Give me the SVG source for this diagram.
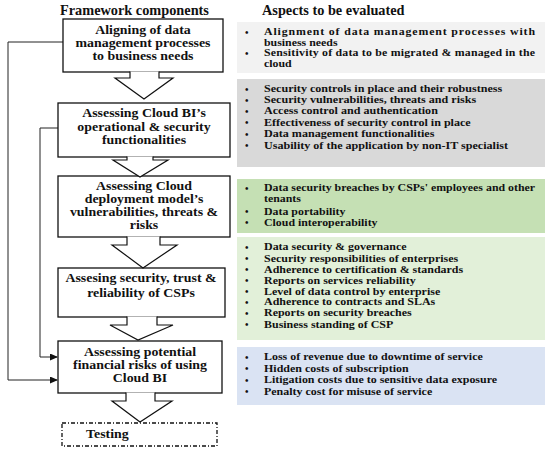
<svg xmlns="http://www.w3.org/2000/svg" width="550" height="452" viewBox="0 0 550 452">
<style>
  .hd{font-family:"Liberation Serif",serif;font-weight:bold;font-size:14.3px;fill:#111}
  .bx{fill:#fff;stroke:#111;stroke-width:1.3}
  .bt{font-family:"Liberation Serif",serif;font-weight:bold;font-size:12.4px;fill:#111;text-anchor:middle}
  .ar{fill:#fff;stroke:#111;stroke-width:1.2}
  .ln{fill:none;stroke:#222;stroke-width:1}
  .it{font-family:"Liberation Serif",serif;font-weight:bold;font-size:10.6px;fill:#111}
  .bu{font-family:"Liberation Serif",serif;font-weight:bold;font-size:10px;fill:#111}
</style>
<defs>
  <marker id="ah" markerWidth="8" markerHeight="7" refX="7" refY="3.5" orient="auto" markerUnits="userSpaceOnUse">
    <path d="M0,0 L8,3.5 L0,7 Z" fill="#111"/>
  </marker>
</defs>
<rect width="550" height="452" fill="#fff"/>
<text class="hd" x="60" y="15">Framework components</text>
<text class="hd" x="262" y="15">Aspects to be evaluated</text>

<g id="connectors">
  <path class="ln" d="M63,42 H8 V380 H57" marker-end="url(#ah)"/>
  <path class="ln" d="M58,128 H40 V357 H57" marker-end="url(#ah)"/>
</g>

<g id="node1">
  <rect class="bx" x="63" y="19" width="160" height="53"/>
  <g transform="matrix(1.12,0,0,1,143,0)">
    <text class="bt" x="0" y="34.5">Aligning of data</text>
    <text class="bt" x="0" y="47.5">management processes</text>
    <text class="bt" x="0" y="60.5">to business needs</text>
  </g>
</g>
<g id="node2">
  <rect class="bx" x="58" y="103" width="172" height="54"/>
  <g transform="matrix(1.12,0,0,1,144,0)">
    <text class="bt" x="0" y="117">Assessing Cloud BI’s</text>
    <text class="bt" x="0" y="131">operational &amp; security</text>
    <text class="bt" x="0" y="144.5">functionalities</text>
  </g>
</g>
<g id="node3">
  <rect class="bx" x="58" y="176" width="172" height="61"/>
  <g transform="matrix(1.12,0,0,1,144,0)">
    <text class="bt" x="0" y="190.5">Assessing Cloud</text>
    <text class="bt" x="0" y="203.5">deployment model’s</text>
    <text class="bt" x="0" y="216.5">vulnerabilities, threats &amp;</text>
    <text class="bt" x="0" y="229.5">risks</text>
  </g>
</g>
<g id="node4">
  <rect class="bx" x="58" y="268" width="167" height="49"/>
  <g transform="matrix(1.12,0,0,1,141,0)">
    <text class="bt" x="0" y="282.5">Assesing security, trust &amp;</text>
    <text class="bt" x="0" y="297">reliability of CSPs</text>
  </g>
</g>
<g id="node5">
  <rect class="bx" x="58" y="341" width="164" height="52"/>
  <g transform="matrix(1.12,0,0,1,140,0)">
    <text class="bt" x="0" y="356">Assessing potential</text>
    <text class="bt" x="0" y="369">financial risks of using</text>
    <text class="bt" x="0" y="382">Cloud BI</text>
  </g>
</g>
<g id="node6">
  <rect x="62" y="423" width="155" height="23" fill="#fff" stroke="#111" stroke-width="1.3" stroke-dasharray="4,2,1,2"/>
  <g transform="matrix(1.12,0,0,1,86,0)">
    <text class="bt" x="0" y="438.5" style="text-anchor:start">Testing</text>
  </g>
</g>

<g id="flow-arrows">
  <path class="ar" d="M130,71.5 V78 H115 L144,99 L173,78 H159 V71.5"/>
  <path class="ar" d="M127,156.5 V160 H113 L140,177 L168,160 H153 V156.5"/>
  <path class="ar" d="M127,236.5 V245 H112 L143,268 L177,245 H160 V236.5"/>
  <path class="ar" d="M127,316.5 V325 H110 L138,340 L173,325 H157 V316.5"/>
  <path class="ar" d="M126,392.5 V401 H112 L140,422 L172,401 H155 V392.5"/>
</g>

<g id="panel1">
  <rect x="237" y="22" width="308" height="51" fill="#f2f2f2"/>
  <text class="bu" x="245" y="35.5">•</text>
  <text class="bu" x="245" y="56.5">•</text>
  <g transform="matrix(1.12,0,0,1,264,0)">
    <text class="it" x="0" y="35.5" textLength="242" lengthAdjust="spacing">Alignment of data management processes with</text>
    <text class="it" x="0" y="46">business needs</text>
    <text class="it" x="0" y="56.5" textLength="242" lengthAdjust="spacing">Sensitivity of data to be migrated &amp; managed in the</text>
    <text class="it" x="0" y="67">cloud</text>
  </g>
</g>
<g id="panel2">
  <rect x="237" y="79" width="308" height="88" fill="#d9d9d9"/>
  <text class="bu" x="245" y="92.5">•</text>
  <text class="bu" x="245" y="103.5">•</text>
  <text class="bu" x="245" y="114.5">•</text>
  <text class="bu" x="245" y="126">•</text>
  <text class="bu" x="245" y="137.5">•</text>
  <text class="bu" x="245" y="149">•</text>
  <g transform="matrix(1.14,0,0,1,264,0)">
    <text class="it" x="0" y="92.5">Security controls in place and their robustness</text>
    <text class="it" x="0" y="103.5">Security vulnerabilities, threats and risks</text>
    <text class="it" x="0" y="114.5">Access control and authentication</text>
    <text class="it" x="0" y="126">Effectiveness of security control in place</text>
    <text class="it" x="0" y="137.5">Data management functionalities</text>
    <text class="it" x="0" y="149">Usability of the application by non-IT specialist</text>
  </g>
</g>
<g id="panel3">
  <rect x="237" y="179" width="308" height="54" fill="#c5e0b4"/>
  <text class="bu" x="245" y="191.5">•</text>
  <text class="bu" x="245" y="215">•</text>
  <text class="bu" x="245" y="226">•</text>
  <g transform="matrix(1.12,0,0,1,264,0)">
    <text class="it" x="0" y="191.5">Data security breaches by CSPs' employees and other</text>
    <text class="it" x="0" y="202.5">tenants</text>
    <text class="it" x="0" y="215">Data portability</text>
    <text class="it" x="0" y="226">Cloud interoperability</text>
  </g>
</g>
<g id="panel4">
  <rect x="237" y="237" width="308" height="103" fill="#e2f0d9"/>
  <text class="bu" x="245" y="250.5">•</text>
  <text class="bu" x="245" y="262">•</text>
  <text class="bu" x="245" y="273">•</text>
  <text class="bu" x="245" y="284">•</text>
  <text class="bu" x="245" y="295">•</text>
  <text class="bu" x="245" y="305.5">•</text>
  <text class="bu" x="245" y="316.5">•</text>
  <text class="bu" x="245" y="328">•</text>
  <g transform="matrix(1.13,0,0,1,264,0)">
    <text class="it" x="0" y="250.5">Data security &amp; governance</text>
    <text class="it" x="0" y="262">Security responsibilities of enterprises</text>
    <text class="it" x="0" y="273">Adherence to certification &amp; standards</text>
    <text class="it" x="0" y="284">Reports on services reliability</text>
    <text class="it" x="0" y="295">Level of data control by enterprise</text>
    <text class="it" x="0" y="305.5">Adherence to contracts and SLAs</text>
    <text class="it" x="0" y="316.5">Reports on security breaches</text>
    <text class="it" x="0" y="328">Business standing of CSP</text>
  </g>
</g>
<g id="panel5">
  <rect x="237" y="347" width="308" height="58" fill="#dae3f3"/>
  <text class="bu" x="245" y="360.5">•</text>
  <text class="bu" x="245" y="372">•</text>
  <text class="bu" x="245" y="383.5">•</text>
  <text class="bu" x="245" y="395">•</text>
  <g transform="matrix(1.13,0,0,1,264,0)">
    <text class="it" x="0" y="360.5">Loss of revenue due to downtime of service</text>
    <text class="it" x="0" y="372">Hidden costs of subscription</text>
    <text class="it" x="0" y="383.5">Litigation costs due to sensitive data exposure</text>
    <text class="it" x="0" y="395">Penalty cost for misuse of service</text>
  </g>
</g>
</svg>
